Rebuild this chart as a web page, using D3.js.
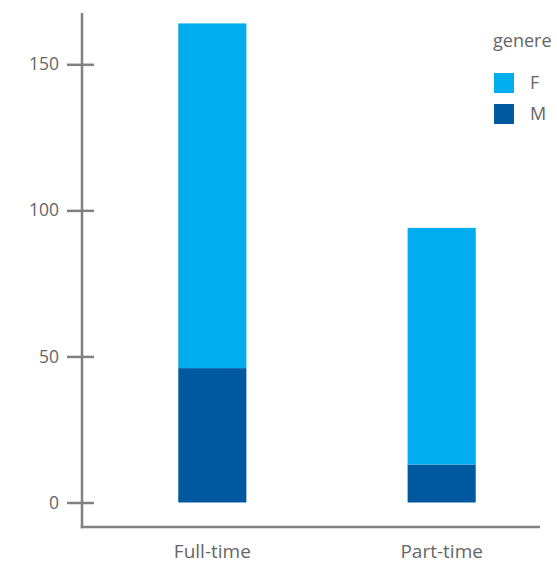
<!DOCTYPE html>
<html>
<head>
<meta charset="utf-8">
<script src="https://cdn.jsdelivr.net/npm/d3@7/dist/d3.min.js"></script>
<style>
  html, body { margin: 0; padding: 0; background: #fff; }
  svg { display: block; font-family: "Open Sans", sans-serif; }
</style>
</head>
<body>
<svg id="chart" width="557" height="563"></svg>
<script>
// Employment type by gender (stacked counts)
const categories = ["Full-time", "Part-time"];
const seriesKeys = ["M", "F"];
const valuesM = [46, 13];
const valuesF = [118, 81];
const yTicks = [0, 50, 100, 150];
const legendTitle = "genere";
const legendKeys = ["F", "M"];

const colors = { F: "#00aeef", M: "#00589f" };
const axisColor = "#808080";
const textColor = "#666666";

const svg = d3.select("#chart");

const rows = categories.map((c, i) => ({ cat: c, M: valuesM[i], F: valuesF[i] }));
const stacked = d3.stack().keys(seriesKeys)(rows);

const axisX = 82, axisTop = 13, axisBottom = 527, axisRight = 540;

const x = d3.scaleBand()
  .domain(categories)
  .range([98, 556])
  .paddingInner(0.703)
  .paddingOuter(0.35);

const y = d3.scaleLinear()
  .domain([0, 150])
  .range([502.5, 64.3]);

// stacked bars
svg.append("g").selectAll("g")
  .data(stacked)
  .join("g")
  .attr("fill", d => colors[d.key])
  .selectAll("rect")
  .data(d => d)
  .join("rect")
  .attr("x", d => x(d.data.cat))
  .attr("width", x.bandwidth())
  .attr("y", d => y(d[1]))
  .attr("height", d => y(d[0]) - y(d[1]));

// y axis
const yAxis = svg.append("g")
  .attr("transform", `translate(${axisX},0)`)
  .call(d3.axisLeft(y).tickValues(yTicks).tickSize(15).tickPadding(8));
yAxis.select(".domain").remove();
yAxis.selectAll(".tick line")
  .attr("x1", 12)
  .attr("stroke", axisColor)
  .attr("stroke-width", 2.5);
yAxis.selectAll(".tick text")
  .attr("fill", textColor)
  .style("font-family", "'Open Sans', sans-serif")
  .style("font-size", "17.5px");

// axis lines
svg.append("line")
  .attr("x1", axisX).attr("x2", axisX)
  .attr("y1", axisTop).attr("y2", axisBottom + 1.25)
  .attr("stroke", axisColor).attr("stroke-width", 2.5);
svg.append("line")
  .attr("x1", axisX - 1.25).attr("x2", axisRight)
  .attr("y1", axisBottom).attr("y2", axisBottom)
  .attr("stroke", axisColor).attr("stroke-width", 2.5);

// x labels
const xAxis = svg.append("g")
  .attr("transform", `translate(0,${axisBottom})`)
  .call(d3.axisBottom(x).tickSize(0).tickPadding(0));
xAxis.select(".domain").remove();
xAxis.selectAll(".tick text")
  .attr("y", 31)
  .attr("dy", 0)
  .attr("fill", textColor)
  .style("font-family", "'Open Sans', sans-serif")
  .style("font-size", "19px");

// legend
const legend = svg.append("g").attr("transform", "translate(494,0)");
legend.append("text")
  .attr("x", -1).attr("y", 47)
  .attr("fill", textColor)
  .style("font-size", "18px")
  .text(legendTitle);
const items = legend.selectAll("g.item")
  .data(legendKeys)
  .join("g")
  .attr("class", "item")
  .attr("transform", (d, i) => `translate(0,${73 + i * 31})`);
items.append("rect")
  .attr("width", 20).attr("height", 20)
  .attr("fill", d => colors[d]);
items.append("text")
  .attr("x", 36).attr("y", 10).attr("dy", "0.35em")
  .attr("fill", textColor)
  .style("font-size", "18px")
  .text(d => d);
</script>
</body>
</html>
